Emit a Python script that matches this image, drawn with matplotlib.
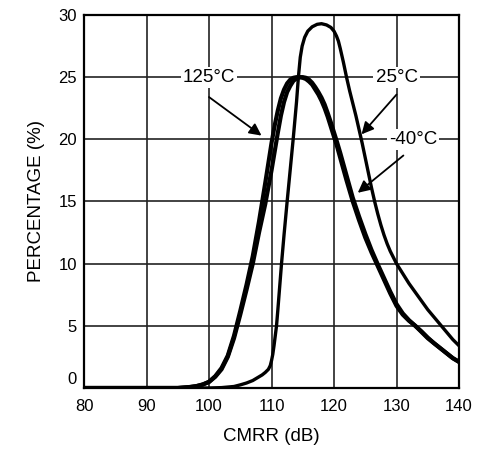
import matplotlib.pyplot as plt
import matplotlib.transforms as mtransforms

plt.rcParams['font.family'] = ['Liberation Sans', 'DejaVu Sans']

# 25°C curve
x_25 = [80, 100, 102, 104, 105, 106, 107, 108, 108.5, 109, 109.5, 109.8, 110, 110.2, 110.4,
        110.6, 110.8, 111, 111.3, 111.6, 112, 112.5, 113, 113.5, 114, 114.3, 114.6, 114.9,
        115.3, 115.8, 116.5, 117.3, 118, 118.8, 119.5, 120, 120.4, 120.7, 121, 121.5, 122,
        122.5, 123, 123.5, 124, 124.5, 125, 125.5, 126, 126.5, 127, 127.5, 128, 128.5, 129, 130,
        131, 132, 133, 134, 135, 136, 137, 138, 139, 140]
y_25 = [0, 0, 0.03, 0.12, 0.25, 0.4, 0.6, 0.9, 1.05, 1.25, 1.5, 1.8, 2.2, 2.7, 3.4,
        4.2, 5.0, 6.2, 8.1, 10, 12.3, 15, 17.6, 20.2, 23.0, 25, 26.6, 27.5,
        28.2, 28.7, 29.05, 29.25, 29.3, 29.2, 29.0, 28.7, 28.3, 27.9, 27.3, 26.2, 25.0,
        23.9, 22.9, 21.9, 20.8, 19.7, 18.5, 17.3, 16.1, 15.0, 14.0, 13.1, 12.3, 11.6, 11.0, 10.0,
        9.2, 8.4, 7.7, 7.0, 6.3, 5.7, 5.1, 4.5, 3.9, 3.4]

# 125°C curve
x_125 = [80, 95, 97, 98, 99, 100, 101, 102, 103, 104, 105, 106, 107, 108, 109, 110,
         110.5, 111, 111.5, 112, 112.5, 113, 113.5, 114, 114.5, 115, 115.5, 116, 116.5,
         117, 117.5, 118, 118.5, 119, 119.5, 120, 120.5, 121, 122, 123, 124, 125, 126,
         127, 128, 129, 130, 131, 132, 133, 134, 135, 136, 137, 138, 139, 140]
y_125 = [0, 0, 0.08, 0.15, 0.28, 0.5, 0.95, 1.6, 2.6, 4.2, 6.2, 8.3, 10.6, 13.4, 16.5, 19.7,
         21.1, 22.3, 23.3, 24.0, 24.5, 24.8, 24.95, 25.0, 25.0, 24.95, 24.85, 24.65, 24.4,
         24.0, 23.6, 23.1, 22.5, 21.8, 21.0, 20.2, 19.4, 18.5, 16.7, 15.0, 13.5, 12.1, 10.9,
         9.8, 8.7, 7.6, 6.6, 5.9, 5.4, 5.0, 4.5, 4.0, 3.6, 3.2, 2.8, 2.4, 2.1]

# -40°C curve
x_m40 = [80, 95, 97, 98, 99, 100, 101, 102, 103, 104, 105, 106, 107, 108, 109, 110,
         110.5, 111, 111.5, 112, 112.5, 113, 113.5, 114, 114.5, 115, 115.5, 116, 116.5,
         117, 117.5, 118, 118.5, 119, 119.5, 120, 120.5, 121, 122, 123, 124, 125, 126,
         127, 128, 129, 130, 131, 132, 133, 134, 135, 136, 137, 138, 139, 140]
y_m40 = [0, 0, 0.08, 0.15, 0.28, 0.48, 0.9, 1.5, 2.5, 4.0, 5.9, 7.9, 10.0, 12.5, 14.8, 17.5,
         19.0, 20.5, 21.9, 23.0, 23.8, 24.3, 24.7, 24.9, 25.0, 25.0, 24.95, 24.8, 24.55,
         24.2, 23.8, 23.35, 22.8, 22.1, 21.35, 20.55, 19.75, 18.9, 17.1, 15.3, 13.8, 12.4, 11.1,
         9.95, 8.85, 7.75, 6.75, 6.0, 5.45, 5.0, 4.55, 4.05, 3.6, 3.2, 2.8, 2.4, 2.1]

x_ticks = [80, 90, 100, 110, 120, 130, 140]
y_ticks = [0, 5, 10, 15, 20, 25, 30]

fig = plt.figure(figsize=(4.89, 4.49), dpi=100)
ax = fig.add_axes([0.1718, 0.1359, 0.7669, 0.8307])

ax.plot(x_25, y_25, color='black', lw=2.4, solid_joinstyle='round', zorder=3)
ax.plot(x_125, y_125, color='black', lw=3.0, solid_joinstyle='round', zorder=3)
ax.plot(x_m40, y_m40, color='black', lw=3.0, solid_joinstyle='round', zorder=3)

ax.set_xlim(80, 140)
ax.set_ylim(0, 30)
ax.set_xticks(x_ticks)
ax.set_yticks(y_ticks)
ax.tick_params(length=0, labelsize=12, pad=8)
ax.tick_params(axis='y', pad=5)
ax.grid(True, color='#222222', lw=1.2)
ax.set_axisbelow(True)
for s in ax.spines.values():
    s.set_linewidth(1.6)

# nudge the "0" label up off the corner
lbl0 = ax.get_yticklabels()[0]
lbl0.set_transform(lbl0.get_transform() + mtransforms.ScaledTranslation(0, 7 / 72, fig.dpi_scale_trans))

ax.set_xlabel('CMRR (dB)', fontsize=13.5, labelpad=10)
ax.set_ylabel('PERCENTAGE (%)', fontsize=13.5, labelpad=10)

box = dict(facecolor='white', edgecolor='none', pad=1.5)
arrow = dict(arrowstyle='-|>', color='black', lw=1.3, mutation_scale=18, shrinkA=0, shrinkB=0)

ax.text(100, 25, '125°C', fontsize=13.5, ha='center', va='center', bbox=box, zorder=4)
ax.annotate('', xy=(108.4, 20.3), xytext=(100, 23.4), arrowprops=arrow, zorder=4)

ax.text(130, 25, '25°C', fontsize=13.5, ha='center', va='center', bbox=box, zorder=4)
ax.annotate('', xy=(124.4, 20.4), xytext=(130, 23.6), arrowprops=arrow, zorder=4)

ax.text(132.6, 20, '-40°C', fontsize=13.5, ha='center', va='center', bbox=box, zorder=4)
ax.annotate('', xy=(123.8, 15.7), xytext=(131.1, 18.7), arrowprops=arrow, zorder=4)

fig.savefig('out.png', dpi=100)
